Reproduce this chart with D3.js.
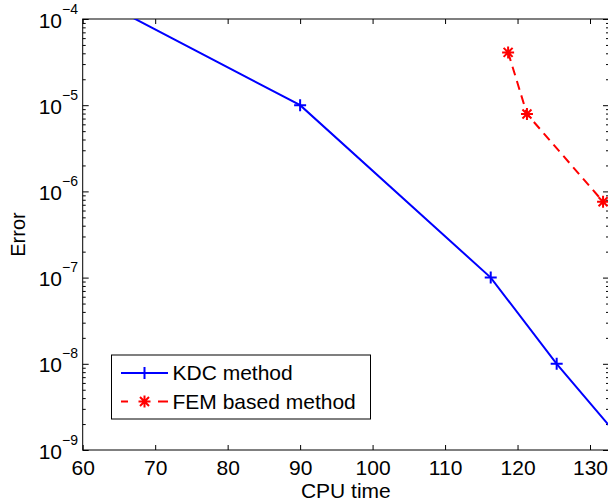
<!DOCTYPE html>
<html>
<head>
<meta charset="utf-8">
<title>Error vs CPU time</title>
<script src="https://d3js.org/d3.v7.min.js"></script>
<style>
  body { margin: 0; background: #fff; overflow: hidden; }
  svg { display: block; }
  svg text { font-family: "Liberation Sans", Arial, sans-serif; fill: #000; }
  .axis path, .axis line { stroke: #000; }
</style>
</head>
<body>
<div id="home"></div>
<script>
// data
const xTicks = [60, 70, 80, 90, 100, 110, 120, 130];
const yTicks = [1e-9, 1e-8, 1e-7, 1e-6, 1e-5, 1e-4];
const seriesNames = ["KDC method", "FEM based method"];
const kdcTime  = [44.5, 90, 116.3, 125.4, 135.5];
const kdcError = [1e-3, 1e-5, 1e-7, 1e-8, 1e-9];
const femTime  = [118.7, 121.3, 131.8];
const femError = [4.1e-5, 7.9e-6, 7.6e-7];

const w = 608, h = 502;
const pL = 82.7, pR = 609, pT = 19, pB = 450;
const fs = 21;

const svg = d3.select("#home").append("svg")
  .attr("width", w).attr("height", h);

const x = d3.scaleLinear().domain([60, 132.62]).range([pL, pR]);
const y = d3.scaleLog().domain([1e-9, 1e-4]).range([pB, pT]);

// minor ticks for log axis
const minor = [];
yTicks.slice(0, -1).forEach(d => { for (let k = 2; k <= 9; k++) minor.push(d * k); });

// frame
svg.append("rect").attr("x", pL).attr("y", pT)
  .attr("width", pR - pL).attr("height", pB - pT)
  .attr("fill", "none").attr("stroke", "#000").attr("stroke-width", 1);

// x axes
svg.append("g").attr("class", "axis")
  .attr("transform", `translate(0,${pB})`)
  .call(d3.axisBottom(x).tickValues(xTicks).tickSizeInner(-5).tickSizeOuter(0).tickPadding(10))
  .call(g => g.select(".domain").remove())
  .selectAll("text").attr("font-size", fs);
svg.append("g").attr("class", "axis")
  .attr("transform", `translate(0,${pT})`)
  .call(d3.axisTop(x).tickValues(xTicks).tickSizeInner(-5).tickSizeOuter(0).tickFormat(""))
  .call(g => g.select(".domain").remove());

// y axes, major + minor
const yl = svg.append("g").attr("class", "axis")
  .attr("transform", `translate(${pL},0)`)
  .call(d3.axisLeft(y).tickValues(yTicks).tickSizeInner(-6).tickSizeOuter(0).tickPadding(5))
  .call(g => g.select(".domain").remove());
svg.append("g").attr("class", "axis")
  .attr("transform", `translate(${pL},0)`)
  .call(d3.axisLeft(y).tickValues(minor).tickSizeInner(-3).tickSizeOuter(0).tickFormat(""))
  .call(g => g.select(".domain").remove());
svg.append("g").attr("class", "axis")
  .attr("transform", `translate(${pR},0)`)
  .call(d3.axisRight(y).tickValues(yTicks).tickSizeInner(-6).tickSizeOuter(0).tickFormat(""))
  .call(g => g.select(".domain").remove());
svg.append("g").attr("class", "axis")
  .attr("transform", `translate(${pR},0)`)
  .call(d3.axisRight(y).tickValues(minor).tickSizeInner(-3).tickSizeOuter(0).tickFormat(""))
  .call(g => g.select(".domain").remove());

// 10^k labels
yl.selectAll(".tick text").each(function(d) {
  const t = d3.select(this).text(null)
    .attr("x", -4.7).attr("dy", 8).attr("font-size", fs).attr("text-anchor", "end");
  t.append("tspan").text("10");
  t.append("tspan").attr("font-size", 14).attr("dy", -14)
    .text("\u2212" + Math.abs(Math.round(Math.log10(d))));
});

// axis titles
svg.append("text").attr("x", (pL + pR) / 2).attr("y", 498)
  .attr("text-anchor", "middle").attr("font-size", fs).text("CPU time");
svg.append("text").attr("transform", `translate(25,${(pT + pB) / 2}) rotate(-90)`)
  .attr("text-anchor", "middle").attr("font-size", 20).text("Error");

// clip
svg.append("clipPath").attr("id", "clip").append("rect")
  .attr("x", pL).attr("y", pT).attr("width", pR - pL).attr("height", pB - pT);

const line = d3.line().x(d => x(d[0])).y(d => y(d[1]));
const kdc = kdcTime.map((t, i) => [t, kdcError[i]]);
const fem = femTime.map((t, i) => [t, femError[i]]);

svg.append("path").datum(kdc).attr("d", line).attr("clip-path", "url(#clip)")
  .attr("fill", "none").attr("stroke", "#0000ff").attr("stroke-width", 2);
svg.append("path").datum(fem).attr("d", line).attr("clip-path", "url(#clip)")
  .attr("fill", "none").attr("stroke", "#ff0000").attr("stroke-width", 2)
  .attr("stroke-dasharray", "9,6");

// markers
const plusPath = "M-6,0H6M0,-6V6";
const starPath = "M-6,0H6M0,-6V6M-4.5,-4.5L4.5,4.5M-4.5,4.5L4.5,-4.5";
svg.append("g").attr("clip-path", "url(#clip)").selectAll("path")
  .data(kdc).join("path")
  .attr("transform", d => `translate(${x(d[0])},${y(d[1])})`)
  .attr("d", plusPath).attr("stroke", "#0000ff").attr("stroke-width", 2);
svg.append("g").selectAll("path")
  .data(fem).join("path")
  .attr("transform", d => `translate(${x(d[0])},${y(d[1])})`)
  .attr("d", starPath).attr("stroke", "#ff0000").attr("stroke-width", 2);

// legend
const lg = svg.append("g");
lg.append("rect").attr("x", 111.5).attr("y", 355).attr("width", 259).attr("height", 64)
  .attr("fill", "#fff").attr("stroke", "#000").attr("stroke-width", 1);
const rows = [
  { name: seriesNames[0], color: "#0000ff", dash: null, mark: plusPath, cy: 373 },
  { name: seriesNames[1], color: "#ff0000", dash: "7,30,10", mark: starPath, cy: 401.5 }
];
rows.forEach(r => {
  lg.append("line").attr("x1", 121).attr("x2", 168).attr("y1", r.cy).attr("y2", r.cy)
    .attr("stroke", r.color).attr("stroke-width", 2).attr("stroke-dasharray", r.dash);
  lg.append("path").attr("transform", `translate(144.5,${r.cy})`).attr("d", r.mark)
    .attr("stroke", r.color).attr("stroke-width", 2);
  lg.append("text").attr("x", 172.5).attr("y", r.cy + 7).attr("font-size", fs).text(r.name);
});
</script>
</body>
</html>
